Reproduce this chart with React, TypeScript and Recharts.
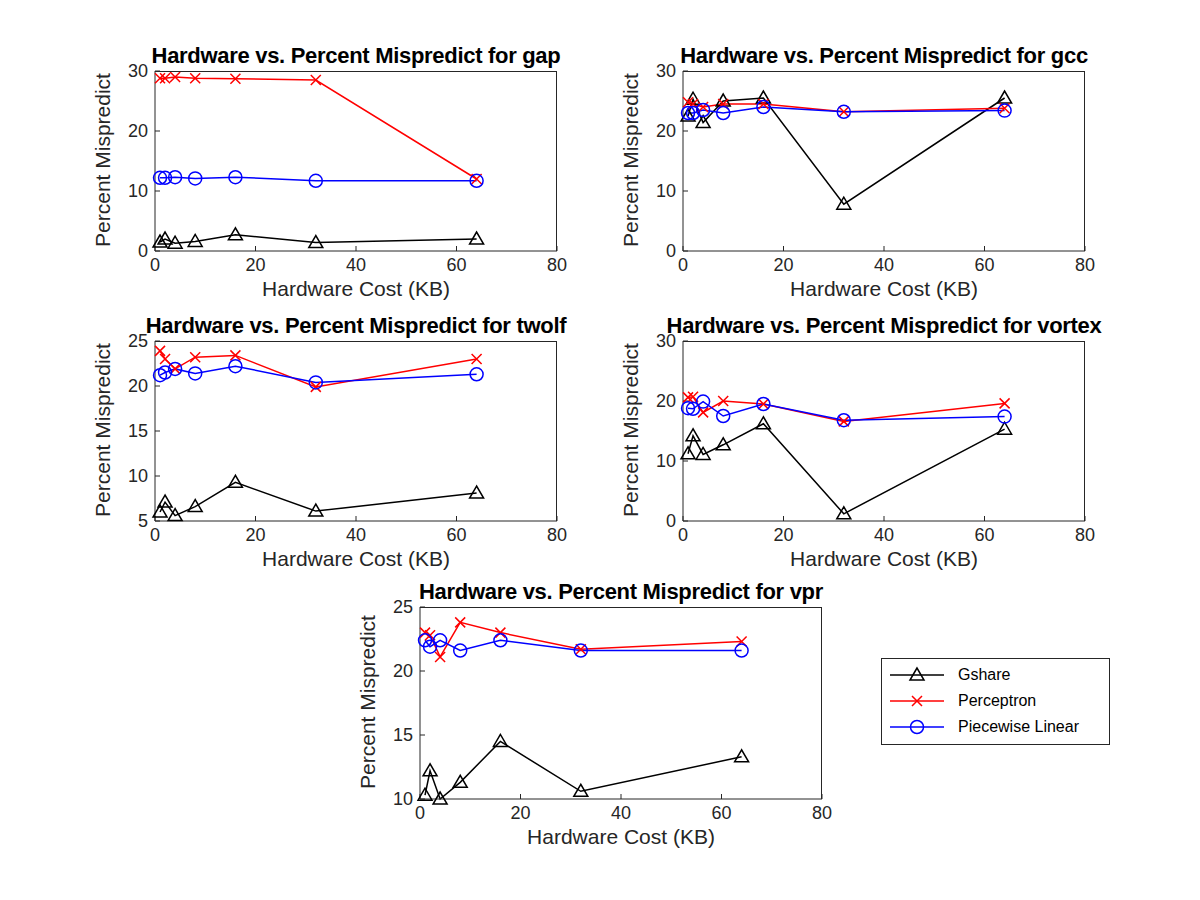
import React from "react";
import { LineChart, Line, XAxis, YAxis } from "recharts";

const xs = [1, 2, 4, 8, 16, 32, 64];
const xTicks = [0, 20, 40, 60, 80];

const gapGshare = [1.5, 2.0, 1.3, 1.6, 2.7, 1.4, 2.0];
const gapPerc = [28.8, 28.8, 29.0, 28.8, 28.7, 28.5, 12.0];
const gapPw = [12.2, 12.2, 12.3, 12.1, 12.3, 11.7, 11.7];

const gccGshare = [22.5, 25.3, 21.4, 25.0, 25.5, 7.8, 25.5];
const gccPerc = [24.8, 24.5, 24.0, 24.5, 24.5, 23.2, 23.8];
const gccPw = [23.0, 23.0, 23.5, 23.0, 24.0, 23.2, 23.4];

const twolfGshare = [6.0, 7.1, 5.6, 6.6, 9.3, 6.1, 8.1];
const twolfPerc = [23.9, 23.0, 21.9, 23.2, 23.4, 19.9, 23.0];
const twolfPw = [21.2, 21.5, 21.9, 21.4, 22.2, 20.4, 21.3];

const vortexGshare = [11.2, 14.2, 11.1, 12.7, 16.2, 1.2, 15.3];
const vortexPerc = [20.6, 20.7, 18.1, 20.0, 19.5, 16.6, 19.6];
const vortexPw = [18.8, 18.7, 19.9, 17.5, 19.5, 16.8, 17.4];

const vprGshare = [10.3, 12.2, 10.0, 11.3, 14.5, 10.6, 13.3];
const vprPerc = [23.0, 22.8, 21.1, 23.8, 23.0, 21.7, 22.3];
const vprPw = [22.4, 21.9, 22.4, 21.6, 22.4, 21.6, 21.6];

const FONT = "'Liberation Sans', Arial, Helvetica, sans-serif";
const AX = "#262626";

const Tri = (p: any) => {
  const { cx, cy } = p;
  if (cx == null || cy == null) return null;
  return <polygon key={p.index} points={`${cx},${cy - 7} ${cx - 7},${cy + 5} ${cx + 7},${cy + 5}`} fill="none" stroke="#000" strokeWidth={1.5} />;
};
const Cross = (p: any) => {
  const { cx, cy } = p;
  if (cx == null || cy == null) return null;
  return <path key={p.index} d={`M${cx - 5},${cy - 5}L${cx + 5},${cy + 5}M${cx - 5},${cy + 5}L${cx + 5},${cy - 5}`} stroke="#f00" strokeWidth={1.5} />;
};
const Circ = (p: any) => {
  const { cx, cy } = p;
  if (cx == null || cy == null) return null;
  return <circle key={p.index} cx={cx} cy={cy} r={6.5} fill="none" stroke="#00f" strokeWidth={1.5} />;
};

type PanelProps = {
  left: number; top: number; plotH: number; name: string;
  g: number[]; p: number[]; w: number[]; yDomain: [number, number]; yTicks: number[];
};

const Panel = ({ left, top, plotH, name, g, p, w, yDomain, yTicks }: PanelProps) => {
  const data = xs.map((x, i) => ({ x, g: g[i], p: p[i], w: w[i] }));
  const plotW = 402;
  const mL = 60, mT = 31;
  const W = mL + plotW + 18;
  const H = mT + plotH + 60;
  const tickStyle = { fill: AX, fontSize: 18, fontFamily: FONT };
  return (
    <div style={{ position: "absolute", left, top, width: W, height: H }}>
      <LineChart width={W} height={H} data={data} margin={{ top: mT, right: 18, bottom: 30, left: 20 }}>
        <XAxis dataKey="x" type="number" domain={[0, 80]} ticks={xTicks} stroke={AX} tick={tickStyle} tickSize={-5} tickMargin={12} height={30} />
        <YAxis type="number" domain={yDomain} ticks={yTicks} stroke={AX} tick={tickStyle} tickSize={-5} tickMargin={12} width={40} />
        <Line dataKey="g" stroke="#000" strokeWidth={1.5} dot={Tri} isAnimationActive={false} />
        <Line dataKey="p" stroke="#f00" strokeWidth={1.5} dot={Cross} isAnimationActive={false} />
        <Line dataKey="w" stroke="#00f" strokeWidth={1.5} dot={Circ} isAnimationActive={false} />
      </LineChart>
      <div style={{ position: "absolute", left: mL, top: mT, width: plotW, height: plotH, borderTop: `1px solid ${AX}`, borderRight: `1px solid ${AX}`, boxSizing: "border-box", pointerEvents: "none" }} />
      <div style={{ position: "absolute", left: mL - 150, width: plotW + 300, top: mT - 28, textAlign: "center", fontFamily: FONT, fontWeight: "bold", fontSize: 22, letterSpacing: -0.3, color: "#000", whiteSpace: "nowrap" }}>
        Hardware vs. Percent Mispredict for {name}
      </div>
      <div style={{ position: "absolute", left: mL, width: plotW, top: mT + plotH + 26, textAlign: "center", fontFamily: FONT, fontSize: 21, color: AX }}>
        Hardware Cost (KB)
      </div>
      <div style={{ position: "absolute", left: 8 - 100, width: 200, top: mT + plotH / 2 - 13, textAlign: "center", fontFamily: FONT, fontSize: 21, color: AX, transform: "rotate(-90deg)", whiteSpace: "nowrap" }}>
        Percent Mispredict
      </div>
    </div>
  );
};

const LegendRow = ({ label, color, mark }: { label: string; color: string; mark: string }) => (
  <div style={{ display: "flex", alignItems: "center", height: 26 }}>
    <svg width={70} height={20}>
      <line x1={8} x2={62} y1={10} y2={10} stroke={color} strokeWidth={1.5} />
      {mark === "t" && <polygon points="35,3 28,15 42,15" fill="none" stroke={color} strokeWidth={1.5} />}
      {mark === "x" && <path d="M30,5L40,15M30,15L40,5" stroke={color} strokeWidth={1.5} />}
      {mark === "o" && <circle cx={35} cy={10} r={6.5} fill="none" stroke={color} strokeWidth={1.5} />}
    </svg>
    <span style={{ fontFamily: FONT, fontSize: 16, color: "#000", marginLeft: 6 }}>{label}</span>
  </div>
);

export default function App() {
  return (
    <div style={{ position: "absolute", left: 0, top: 0, width: 1200, height: 900, background: "#fff", overflow: "hidden" }}>
      <Panel left={95} top={40} plotH={180} name="gap" g={gapGshare} p={gapPerc} w={gapPw} yDomain={[0, 30]} yTicks={[0, 10, 20, 30]} />
      <Panel left={623} top={40} plotH={180} name="gcc" g={gccGshare} p={gccPerc} w={gccPw} yDomain={[0, 30]} yTicks={[0, 10, 20, 30]} />
      <Panel left={95} top={310} plotH={180} name="twolf" g={twolfGshare} p={twolfPerc} w={twolfPw} yDomain={[5, 25]} yTicks={[5, 10, 15, 20, 25]} />
      <Panel left={623} top={310} plotH={180} name="vortex" g={vortexGshare} p={vortexPerc} w={vortexPw} yDomain={[0, 30]} yTicks={[0, 10, 20, 30]} />
      <Panel left={360} top={576} plotH={192} name="vpr" g={vprGshare} p={vprPerc} w={vprPw} yDomain={[10, 25]} yTicks={[10, 15, 20, 25]} />
      <div style={{ position: "absolute", left: 881, top: 658, width: 229, height: 87, border: "1px solid #262626", padding: "3px 0 0 0", boxSizing: "border-box", background: "#fff" }}>
        <LegendRow label="Gshare" color="#000" mark="t" />
        <LegendRow label="Perceptron" color="#f00" mark="x" />
        <LegendRow label="Piecewise Linear" color="#00f" mark="o" />
      </div>
    </div>
  );
}
